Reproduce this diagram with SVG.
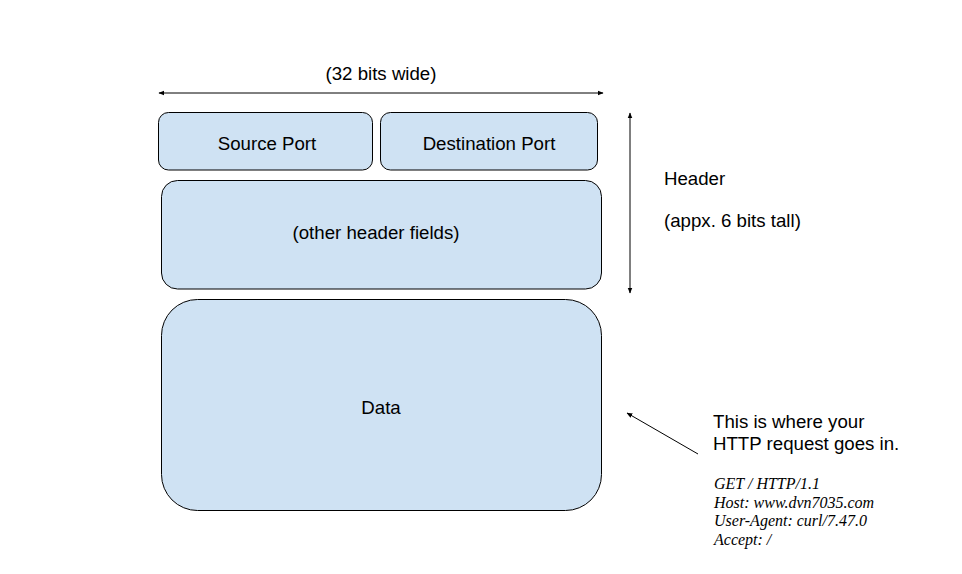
<svg xmlns="http://www.w3.org/2000/svg" width="962" height="574" viewBox="0 0 962 574">
<defs>
<marker id="ah" viewBox="0 0 10 10" refX="9" refY="5" markerWidth="6" markerHeight="6" markerUnits="userSpaceOnUse" orient="auto-start-reverse">
<path d="M0,1 L10,5 L0,9 z" fill="#000"/>
</marker>
<style>
.box{fill:#cfe2f3;stroke:#000;stroke-width:1}
.t{font-family:"Liberation Sans",Arial,sans-serif;font-size:18.67px;fill:#000}
.m{text-anchor:middle}
.i{font-family:"Liberation Serif","Times New Roman",serif;font-style:italic;font-size:16px;fill:#000}
.c{stroke:#000;stroke-width:1;fill:none}
</style>
</defs>
<rect width="962" height="574" fill="#fff"/>
<g id="connectors">
<line class="c" x1="159" y1="93" x2="603" y2="93" marker-start="url(#ah)" marker-end="url(#ah)"/>
<line class="c" x1="630" y1="113" x2="630" y2="293" marker-start="url(#ah)" marker-end="url(#ah)"/>
<line class="c" x1="698" y1="454" x2="627" y2="413" marker-end="url(#ah)"/>
</g>
<g id="width-label"><text class="t m" x="381" y="80">(32 bits wide)</text></g>
<g id="source-port">
<rect class="box" x="158.5" y="112.5" width="214" height="57.5" rx="10"/>
<text class="t m" x="267" y="150">Source Port</text>
</g>
<g id="destination-port">
<rect class="box" x="380.5" y="112.5" width="217" height="57.5" rx="10"/>
<text class="t m" x="489" y="150">Destination Port</text>
</g>
<g id="other-header">
<rect class="box" x="161.5" y="180.5" width="440" height="108.5" rx="16"/>
<text class="t m" x="376" y="239">(other header fields)</text>
</g>
<g id="data">
<rect class="box" x="161.5" y="299.5" width="440" height="211" rx="36"/>
<text class="t m" x="381" y="414">Data</text>
</g>
<g id="header-label">
<text class="t" x="664" y="185">Header</text>
<text class="t" x="664" y="227">(appx. 6 bits tall)</text>
</g>
<g id="http-label">
<text class="t" x="713" y="428">This is where your</text>
<text class="t" x="713" y="450">HTTP request goes in.</text>
</g>
<g id="http-request">
<text class="i" x="714" y="489">GET / HTTP/1.1</text>
<text class="i" x="714" y="507.5">Host: www.dvn7035.com</text>
<text class="i" x="714" y="526">User-Agent: curl/7.47.0</text>
<text class="i" x="714" y="544.5">Accept: /</text>
</g>
</svg>
